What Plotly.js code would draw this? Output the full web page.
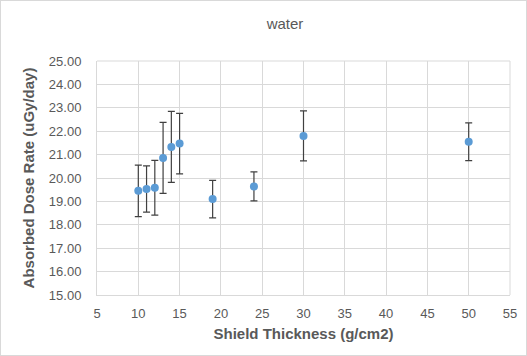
<!DOCTYPE html>
<html>
<head>
<meta charset="utf-8">
<script src="https://cdn.plot.ly/plotly-3.0.1.min.js"></script>
<style>
html,body{margin:0;padding:0;background:#fff;}
#chart{width:527px;height:356px;box-sizing:border-box;border:1px solid #d9d9d9;}
</style>
</head>
<body>
<div id="chart"></div>
<script>
const thickness = [10, 11, 12, 13, 14, 15, 19, 24, 30, 50];
const doseRate = [19.45, 19.53, 19.58, 20.86, 21.33, 21.47, 19.10, 19.64, 21.80, 21.55];
const doseErr = [1.10, 0.99, 1.17, 1.52, 1.52, 1.29, 0.80, 0.62, 1.07, 0.81];
const xTicks = [5, 10, 15, 20, 25, 30, 35, 40, 45, 50, 55];
const yTicks = [15, 16, 17, 18, 19, 20, 21, 22, 23, 24, 25];

const trace = {
  x: thickness,
  y: doseRate,
  type: 'scatter',
  mode: 'markers',
  marker: {color: '#5B9BD5', size: 8},
  error_y: {type: 'data', array: doseErr, visible: true, color: '#404040', thickness: 1.2, width: 3.5},
  hoverinfo: 'none'
};

const layout = {
  width: 525, height: 354,
  margin: {l: 96, r: 16, t: 60, b: 60},
  paper_bgcolor: '#ffffff',
  plot_bgcolor: '#ffffff',
  showlegend: false,
  title: {text: 'water', font: {family: 'Liberation Sans, Arial, sans-serif', size: 15, color: '#595959'}, x: 0.541, xref: 'container', y: 0.935, yref: 'container', yanchor: 'middle'},
  xaxis: {
    range: [5, 55], tickvals: xTicks, ticktext: xTicks.map(String),
    showgrid: true, gridcolor: '#d9d9d9', gridwidth: 1,
    zeroline: false, showline: true, linecolor: '#d9d9d9', linewidth: 1,
    ticks: '', ticklabelstandoff: 6, tickfont: {family: 'Liberation Sans, Arial, sans-serif', size: 13, color: '#595959'},
    title: {text: 'Shield Thickness (g/cm2)', font: {family: 'Liberation Sans, Arial, sans-serif', size: 15, color: '#595959', weight: 'bold'}, standoff: 8},
    fixedrange: true
  },
  yaxis: {
    range: [15, 25], tickvals: yTicks, ticktext: yTicks.map(v => v.toFixed(2)),
    showgrid: true, gridcolor: '#d9d9d9', gridwidth: 1,
    zeroline: false, showline: true, linecolor: '#d9d9d9', linewidth: 1,
    ticks: '', ticklabelstandoff: 12, tickfont: {family: 'Liberation Sans, Arial, sans-serif', size: 13, color: '#595959'},
    title: {text: 'Absorbed Dose Rate (uGy/day)', font: {family: 'Liberation Sans, Arial, sans-serif', size: 15, color: '#595959', weight: 'bold'}, standoff: 10},
    fixedrange: true
  },
  shapes: [
    {type: 'line', xref: 'paper', yref: 'paper', x0: 1, x1: 1, y0: 0, y1: 1, line: {color: '#d9d9d9', width: 1}},
    {type: 'line', xref: 'paper', yref: 'paper', x0: 0, x1: 1, y0: 1, y1: 1, line: {color: '#d9d9d9', width: 1}}
  ]
};

Plotly.newPlot('chart', [trace], layout, {displayModeBar: false, staticPlot: true});
</script>
</body>
</html>
